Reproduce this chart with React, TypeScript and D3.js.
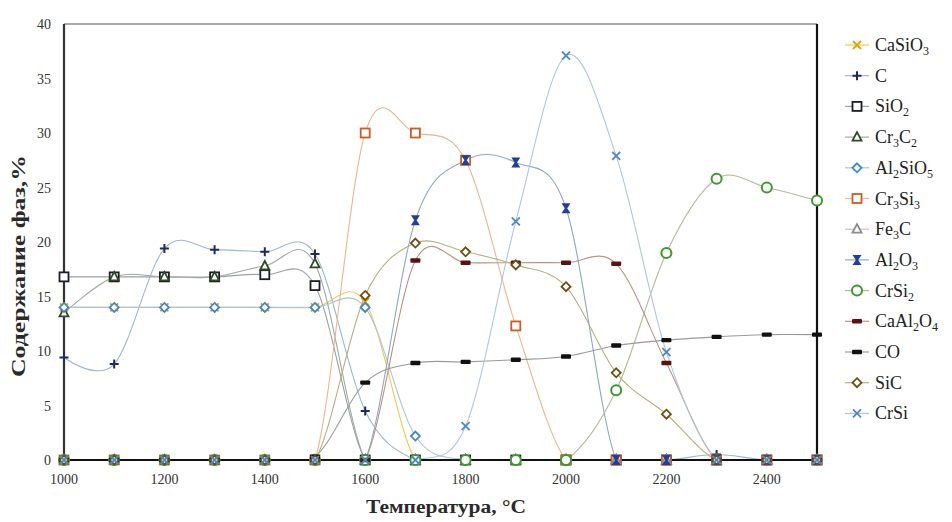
import React, { useRef, useEffect } from 'react';
import * as d3 from 'd3';

// temperatures, °C
const temps = [1000, 1100, 1200, 1300, 1400, 1500, 1600, 1700, 1800, 1900, 2000, 2100, 2200, 2300, 2400, 2500];

// phase content, %
const caSiO3 = [14, 14, 14, 14, 14, 14, 14.5, 0, 0, 0, 0, 0, 0, 0, 0, 0];
const c = [9.4, 8.8, 19.4, 19.3, 19.1, 18.9, 4.5, 0, 0, 0, 0, 0, 0, 0.5, 0, 0];
const siO2 = [16.8, 16.8, 16.8, 16.8, 17.0, 16.0, 0, 0, 0, 0, 0, 0, 0, 0, 0, 0];
const cr3C2 = [13.5, 16.8, 16.8, 16.8, 17.8, 18.0, 0, 0, 0, 0, 0, 0, 0, 0, 0, 0];
const al2SiO5 = [14, 14, 14, 14, 14, 14, 14, 2.2, 0, 0, 0, 0, 0, 0, 0, 0];
const cr3Si3 = [0, 0, 0, 0, 0, 0, 30, 30, 27.5, 12.3, 0, 0, 0, 0, 0, 0];
const fe3C = [0, 0, 0, 0, 0, 0, 0, 0, 0, 0, 0, 0, 0, 0, 0, 0];
const al2O3 = [0, 0, 0, 0, 0, 0, 0, 22, 27.5, 27.3, 23.1, 0, 0, 0, 0, 0];
const crSi2 = [0, 0, 0, 0, 0, 0, 0, 0, 0, 0, 0, 6.4, 19, 25.8, 25.0, 23.8];
const caAl2O4 = [0, 0, 0, 0, 0, 0, 0, 18.3, 18.1, 18.1, 18.1, 18.0, 8.9, 0, 0, 0];
const co = [0, 0, 0, 0, 0, 0.3, 7.1, 8.9, 9.0, 9.2, 9.5, 10.5, 11.0, 11.3, 11.5, 11.5];
const siC = [0, 0, 0, 0, 0, 0, 15.1, 19.9, 19.1, 17.9, 15.9, 8.0, 4.2, 0, 0, 0];
const crSi = [0, 0, 0, 0, 0, 0, 0, 0, 3.1, 21.9, 37.1, 27.9, 9.9, 0, 0, 0];

const xTicks = [1000, 1200, 1400, 1600, 1800, 2000, 2200, 2400];
const yTicks = [0, 5, 10, 15, 20, 25, 30, 35, 40];

// name parts: [text, isSubscript]
const series = [
  { name: [['CaSiO', 0], ['3', 1]], values: caSiO3, line: '#f2c94c', color: '#e8a000', marker: 'x' },
  { name: [['C', 0]], values: c, line: '#9fb6cc', color: '#1c2a5c', marker: 'plus' },
  { name: [['SiO', 0], ['2', 1]], values: siO2, line: '#9aa0a8', color: '#1a1d2a', marker: 'square' },
  { name: [['Cr', 0], ['3', 1], ['C', 0], ['2', 1]], values: cr3C2, line: '#a0a8a0', color: '#2d4a22', marker: 'triangle' },
  { name: [['Al', 0], ['2', 1], ['SiO', 0], ['5', 1]], values: al2SiO5, line: '#a9c4de', color: '#3d86c8', marker: 'diamond' },
  { name: [['Cr', 0], ['3', 1], ['Si', 0], ['3', 1]], values: cr3Si3, line: '#edb48f', color: '#cf5a24', marker: 'square' },
  { name: [['Fe', 0], ['3', 1], ['C', 0]], values: fe3C, line: '#c4c4c4', color: '#8a8a8a', marker: 'triangle' },
  { name: [['Al', 0], ['2', 1], ['O', 0], ['3', 1]], values: al2O3, line: '#8fa6c8', color: '#1f3f9e', marker: 'bowtie' },
  { name: [['CrSi', 0], ['2', 1]], values: crSi2, line: '#b5b89a', color: '#3c9a2c', marker: 'circle' },
  { name: [['CaAl', 0], ['2', 1], ['O', 0], ['4', 1]], values: caAl2O4, line: '#b89484', color: '#5e0f0f', marker: 'dash' },
  { name: [['CO', 0]], values: co, line: '#9a9a9a', color: '#111111', marker: 'dash' },
  { name: [['SiC', 0]], values: siC, line: '#b8ae7a', color: '#6e4f12', marker: 'diamond' },
  { name: [['CrSi', 0]], values: crSi, line: '#adc6e0', color: '#4a88c8', marker: 'x' },
];

const drawMarker = (g, type, color) => {
  if (type === 'x') {
    g.append('path').attr('d', 'M-4,-4L4,4M-4,4L4,-4').attr('stroke', color).attr('stroke-width', 1.8).attr('fill', 'none');
  } else if (type === 'plus') {
    g.append('path').attr('d', 'M-4.5,0L4.5,0M0,-4.5L0,4.5').attr('stroke', color).attr('stroke-width', 2).attr('fill', 'none');
  } else if (type === 'square') {
    g.append('rect').attr('x', -4.5).attr('y', -4.5).attr('width', 9).attr('height', 9)
      .attr('fill', '#fff').attr('stroke', color).attr('stroke-width', 1.8);
  } else if (type === 'triangle') {
    g.append('path').attr('d', 'M0,-5L4.5,3.5L-4.5,3.5Z').attr('fill', '#fff').attr('stroke', color).attr('stroke-width', 1.8);
  } else if (type === 'diamond') {
    g.append('path').attr('d', 'M0,-4.5L4.5,0L0,4.5L-4.5,0Z').attr('fill', '#fff').attr('stroke', color).attr('stroke-width', 1.8);
  } else if (type === 'bowtie') {
    g.append('path').attr('d', 'M-4.5,-5L4.5,-5L1.2,0L4.5,5L-4.5,5L-1.2,0Z').attr('fill', color);
  } else if (type === 'circle') {
    g.append('circle').attr('r', 5).attr('fill', '#fff').attr('stroke', color).attr('stroke-width', 2);
  } else if (type === 'dash') {
    g.append('rect').attr('x', -5).attr('y', -2.2).attr('width', 10).attr('height', 4.4).attr('rx', 1).attr('fill', color);
  }
};

const App = () => {
  const chart = useRef(null);

  useEffect(() => {
    d3.select(chart.current).selectAll('*').remove();

    const width = 952;
    const height = 522;
    const margin = { top: 24, bottom: 62, left: 64, right: 135 };

    const svg = d3
      .select(chart.current)
      .append('svg')
      .attr('width', width)
      .attr('height', height)
      .style('position', 'absolute')
      .style('left', 0)
      .style('top', 0)
      .style('background', '#fff')
      .style('font-family', '"Liberation Serif", "Times New Roman", serif');

    // scales
    const x = d3.scaleLinear().domain([1000, 2500]).range([margin.left, width - margin.right]);
    const y = d3.scaleLinear().domain([0, 40]).range([height - margin.bottom, margin.top]);

    // clip lines to the plot area
    svg.append('defs').append('clipPath').attr('id', 'plot-clip')
      .append('rect')
      .attr('x', x(1000)).attr('y', y(40))
      .attr('width', x(2500) - x(1000)).attr('height', y(0) - y(40));

    // frame
    svg.append('line').attr('x1', x(1000)).attr('x2', x(2500)).attr('y1', y(40)).attr('y2', y(40))
      .attr('stroke', '#555').attr('stroke-width', 1.2);
    svg.append('line').attr('x1', x(2500)).attr('x2', x(2500)).attr('y1', y(40)).attr('y2', y(0))
      .attr('stroke', '#111').attr('stroke-width', 2.2);
    svg.append('line').attr('x1', x(1000)).attr('x2', x(1000)).attr('y1', y(40)).attr('y2', y(0))
      .attr('stroke', '#333').attr('stroke-width', 2.2);

    // tick labels
    svg.append('g').selectAll('text').data(yTicks).enter().append('text')
      .attr('x', x(1000) - 13).attr('y', (d) => y(d) + 5)
      .attr('text-anchor', 'end').attr('font-size', 14).attr('fill', '#333')
      .text((d) => d);
    svg.append('g').selectAll('text').data(xTicks).enter().append('text')
      .attr('x', (d) => x(d)).attr('y', y(0) + 24)
      .attr('text-anchor', 'middle').attr('font-size', 14).attr('fill', '#333')
      .text((d) => d);

    // axis titles
    svg.append('text')
      .attr('x', 446).attr('y', 513)
      .attr('text-anchor', 'middle').attr('font-size', 18).attr('font-weight', 'bold').attr('fill', '#2a2a2a')
      .attr('textLength', 160).attr('lengthAdjust', 'spacingAndGlyphs')
      .text('Температура, °C');
    svg.append('text')
      .attr('transform', 'translate(25, 266) rotate(-90)')
      .attr('text-anchor', 'middle').attr('font-size', 19).attr('font-weight', 'bold').attr('fill', '#2a2a2a')
      .attr('textLength', 222).attr('lengthAdjust', 'spacingAndGlyphs')
      .text('Содержание фаз,%');

    // smoothed lines
    const line = d3.line()
      .x((d, i) => x(temps[i]))
      .y((d) => y(d))
      .curve(d3.curveCardinal.tension(0));

    const lines = svg.append('g').attr('clip-path', 'url(#plot-clip)');
    series.forEach((s) => {
      lines.append('path').datum(s.values)
        .attr('d', line).attr('fill', 'none')
        .attr('stroke', s.line).attr('stroke-width', 1.1);
    });

    // bottom axis line over the curves
    svg.append('line').attr('x1', x(1000)).attr('x2', x(2500)).attr('y1', y(0)).attr('y2', y(0))
      .attr('stroke', '#111').attr('stroke-width', 2);

    // markers
    series.forEach((s) => {
      s.values.forEach((v, i) => {
        const g = svg.append('g').attr('transform', `translate(${x(temps[i])}, ${y(v)})`);
        drawMarker(g, s.marker, s.color);
      });
    });

    // legend
    const legend = svg.append('g').attr('transform', 'translate(845, 45)');
    series.forEach((s, i) => {
      const g = legend.append('g').attr('transform', `translate(0, ${i * 30.7})`);
      g.append('line').attr('x1', 0).attr('x2', 24).attr('y1', 0).attr('y2', 0)
        .attr('stroke', s.line).attr('stroke-width', 1.2);
      drawMarker(g.append('g').attr('transform', 'translate(12, 0)'), s.marker, s.color);
      const t = g.append('text').attr('x', 30).attr('y', 6).attr('font-size', 18).attr('fill', '#222');
      let shifted = false;
      s.name.forEach(([part, sub]) => {
        let dy = 0;
        if (sub && !shifted) dy = 4;
        if (!sub && shifted) dy = -4;
        shifted = !!sub;
        t.append('tspan')
          .attr('font-size', sub ? 12 : 18)
          .attr('dy', dy)
          .text(part);
      });
    });
  }, []);

  return <div ref={chart}></div>;
};

export default App;
